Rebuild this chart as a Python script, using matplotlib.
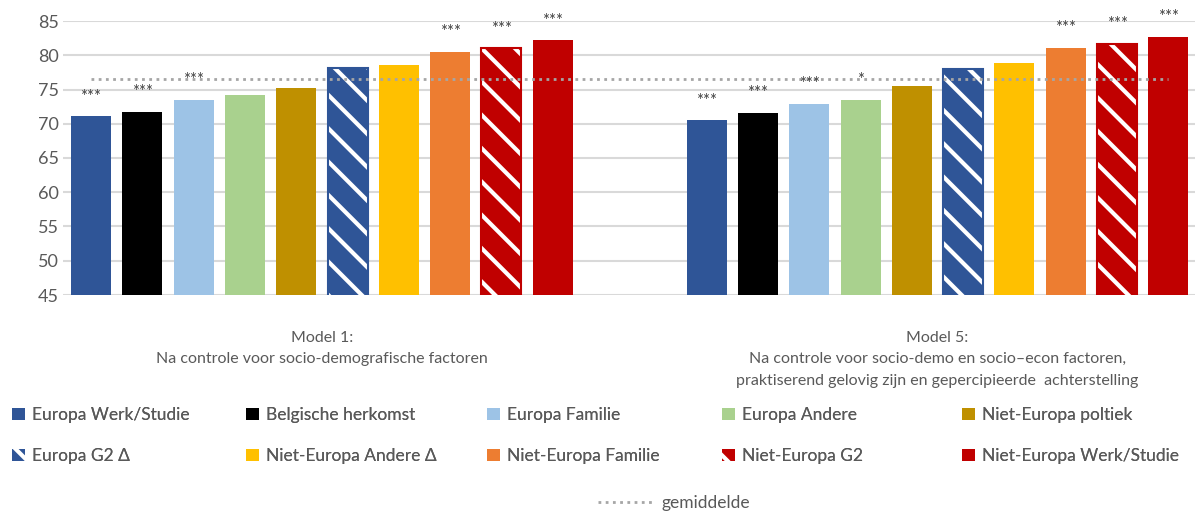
import numpy as np
import matplotlib
matplotlib.use("Agg")
import matplotlib.pyplot as plt

plt.rcParams['font.family'] = ['Lato', 'DejaVu Sans']
plt.rcParams['hatch.linewidth'] = 3.0

series = ["Europa Werk/Studie", "Belgische herkomst", "Europa Familie", "Europa Andere",
          "Niet-Europa poltiek", "Europa G2 \u0394", "Niet-Europa Andere \u0394",
          "Niet-Europa Familie", "Niet-Europa G2", "Niet-Europa Werk/Studie"]
colors = ["#2F5597", "#000000", "#9DC3E6", "#A9D18E", "#BF9000",
          "#2F5597", "#FFC000", "#ED7D31", "#C00000", "#C00000"]
hatched = [False, False, False, False, False, True, False, False, True, False]

model1 = [71.1, 71.7, 73.5, 74.2, 75.2, 78.2, 78.6, 80.5, 81.0, 82.2]
model5 = [70.5, 71.6, 72.9, 73.5, 75.5, 78.0, 78.9, 81.1, 81.7, 82.7]
stars1 = ["***", "***", "***", "", "", "", "", "***", "***", "***"]
stars5 = ["***", "***", "***", "*", "", "", "", "***", "***", "***"]
gemiddelde = 76.6

categories = ["Model 1:\nNa controle voor socio-demografische factoren",
              "Model 5:\nNa controle voor socio-demo en socio\u2013econ factoren,\n"
              "praktiserend gelovig zijn en gepercipieerde  achterstelling"]

fig = plt.figure(figsize=(11.95, 5.13), dpi=100)
ax = fig.add_axes([63 / 1195, 1 - 295 / 513, 1 - 63 / 1195, 274 / 513])

group_gap = 12
width = 0.78
handles = []
for i, name in enumerate(series):
    xs = [i, group_gap + i]
    vals = [model1[i], model5[i]]
    if hatched[i]:
        b = ax.bar(xs, vals, width, bottom=0, color=colors[i], edgecolor="white",
                   hatch="\\", linewidth=0, zorder=3, label=name)
        ax.bar(xs, vals, width, fill=False, edgecolor=colors[i], linewidth=1.5, zorder=4)
    else:
        b = ax.bar(xs, vals, width, color=colors[i], linewidth=0, zorder=3, label=name)
    handles.append(b)

for i in range(len(series)):
    for g, vals, st in [(0, model1, stars1), (group_gap, model5, stars5)]:
        if st[i]:
            ax.text(g + i, vals[i] + 1.7, st[i], ha="center", va="bottom",
                    fontsize=12, color="#404040", clip_on=False, zorder=6)

line_x = np.arange(0, group_gap + len(series))
avg, = ax.plot(line_x, np.full(len(line_x), gemiddelde), linestyle=(0, (1, 1.6)),
               color="#A6A6A6", linewidth=2, zorder=5, label="gemiddelde")

ax.set_ylim(45, 85)
ax.set_yticks(np.arange(45, 86, 5))
ax.set_xlim(-0.546, 21.52)
ax.set_xticks([])
ax.yaxis.grid(True, color="#D9D9D9", linewidth=1.5, zorder=0)
ax.set_axisbelow(True)
for s in ax.spines.values():
    s.set_visible(False)
ax.tick_params(axis="y", length=0, labelsize=13, labelcolor="#595959", pad=3)

for k, cat in enumerate(categories):
    ax.text(k * group_gap + 4.5, 39.8, cat, ha="center", va="top", fontsize=11.5,
            color="#595959", linespacing=1.7, clip_on=False)

# legend entries, Excel-like grid
col_x = [3, 237, 478, 713, 953]
row_y = [415, 456]
for i, h in enumerate(handles):
    r, c = divmod(i, 5)
    lg = fig.legend([h], [series[i]], loc="center left",
                    bbox_to_anchor=(col_x[c] / 1195, 1 - row_y[r] / 513),
                    frameon=False, fontsize=12.5, handlelength=0.75, handleheight=0.75,
                    handletextpad=0.4, borderpad=0, labelcolor="#595959")
    fig.add_artist(lg)
fig.legend([avg], ["gemiddelde"], loc="center left",
           bbox_to_anchor=(589 / 1195, 1 - 503 / 513), frameon=False, fontsize=12.5,
           handlelength=3.2, handletextpad=0.5, borderpad=0, labelcolor="#595959")

fig.savefig("out.png", dpi=100)
